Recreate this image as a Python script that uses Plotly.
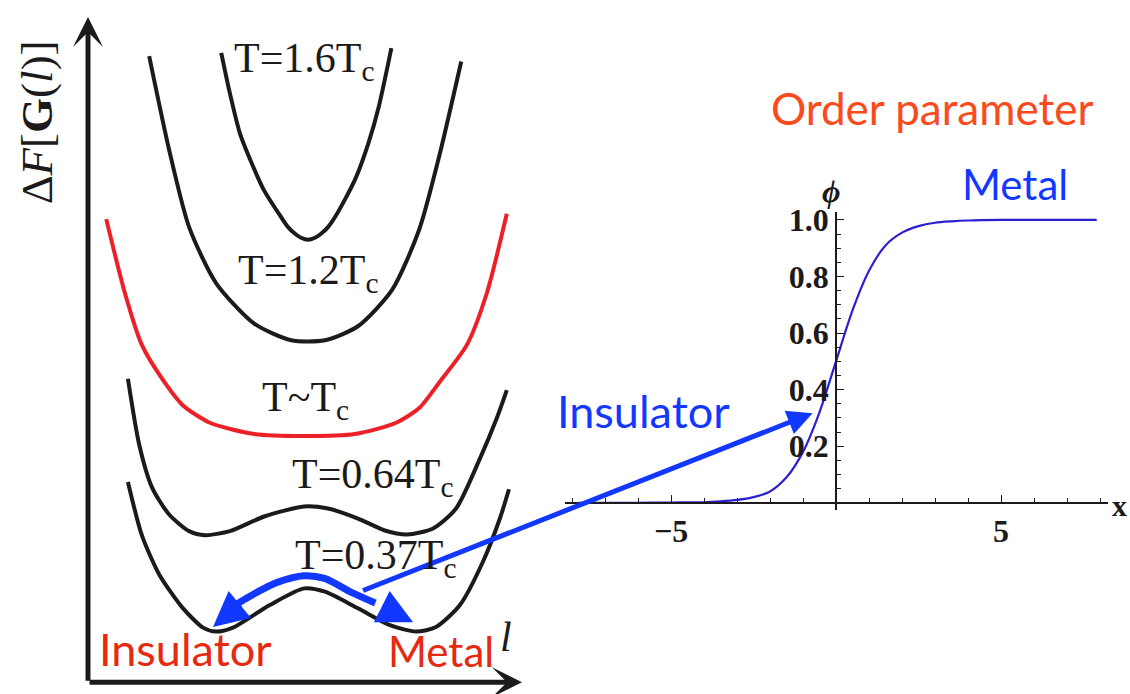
import plotly.graph_objects as go

# ---------------- data: free-energy curves (l, dF) ----------------
l_16 = [3.07, 3.27, 3.50, 3.74, 4.05, 4.45, 4.61, 4.77, 4.91, 5.07, 5.23, 5.37, 5.53, 5.71, 6.15, 6.46, 6.70, 6.99]
f_16 = [9.46, 8.85, 8.25, 7.85, 7.40, 6.99, 6.84, 6.74, 6.68, 6.65, 6.68, 6.74, 6.84, 7.01, 7.55, 8.10, 8.65, 9.53]

l_12 = [1.41, 1.87, 2.33, 2.95, 3.83, 4.68, 5.46, 6.22, 7.01, 7.63, 8.09, 8.60]
f_12 = [9.41, 8.00, 6.84, 6.00, 5.39, 5.14, 5.14, 5.35, 5.90, 6.80, 7.90, 9.33]

l_tc = [0.42, 0.85, 1.24, 1.71, 2.19, 2.81, 3.83, 4.98, 6.15, 7.10, 7.63, 8.11, 8.73, 9.19, 9.65]
f_tc = [6.96, 5.85, 5.07, 4.56, 4.16, 3.90, 3.73, 3.70, 3.73, 3.90, 4.12, 4.52, 5.07, 5.85, 7.04]

l_064 = [0.92, 1.18, 1.48, 1.87, 2.33, 2.70, 3.27, 4.06, 4.98, 5.53, 6.22, 6.84, 7.35, 7.95, 8.48, 9.03, 9.42, 9.65]
f_064 = [4.56, 3.57, 2.92, 2.52, 2.27, 2.21, 2.27, 2.49, 2.64, 2.61, 2.46, 2.28, 2.22, 2.31, 2.61, 3.36, 3.97, 4.39]

l_037 = [0.92, 1.24, 1.64, 2.19, 2.65, 2.95, 3.34, 4.19, 4.98, 5.46, 6.22, 6.94, 7.56, 8.02, 8.57, 9.10, 9.49, 9.70]
f_037 = [3.01, 2.21, 1.62, 1.11, 0.82, 0.76, 0.82, 1.16, 1.41, 1.36, 1.11, 0.86, 0.76, 0.83, 1.16, 1.81, 2.46, 2.90]

# thick blue double arrow drawn just above the T=0.37Tc curve
l_path = [3.42, 3.89, 4.36, 4.98, 5.45, 6.07, 6.62]
f_path = [1.17, 1.35, 1.50, 1.60, 1.56, 1.35, 1.19]

# curve labels
curve_labels = ["T=1.6T<sub>c</sub>", "T=1.2T<sub>c</sub>", "T~T<sub>c</sub>",
                "T=0.64T<sub>c</sub>", "T=0.37T<sub>c</sub>"]
label_l = [4.98, 5.07, 5.00, 6.57, 6.64]
label_f = [9.33, 6.15, 4.24, 3.08, 1.86]

# ---------------- data: order parameter profile phi(x) ----------------
x_phi = [-7.8, -6.0, -5.0, -4.0, -3.5, -3.0, -2.5, -2.0, -1.5, -1.0, -0.5, 0.0,
         0.5, 1.0, 1.5, 2.0, 2.5, 3.0, 3.5, 4.0, 5.0, 6.0, 7.9]
phi = [0.0, 0.0, 0.001, 0.002, 0.005, 0.01, 0.02, 0.04, 0.09, 0.18, 0.32, 0.50,
       0.68, 0.82, 0.91, 0.955, 0.978, 0.99, 0.995, 0.998, 1.0, 1.0, 1.0]

x_major = [-5, 5]
x_major_text = ["\u22125", "5"]
x_minor = [-8, -7, -6, -4, -3, -2, -1, 1, 2, 3, 4, 6, 7, 8]
y_major = [0.2, 0.4, 0.6, 0.8, 1.0]
y_major_text = ["0.2", "0.4", "0.6", "0.8", "1.0"]
y_minor = [0.05, 0.1, 0.15, 0.25, 0.3, 0.35, 0.45, 0.5, 0.55, 0.65, 0.7, 0.75, 0.85, 0.9, 0.95]

# ---------------- styling ----------------
BLACK = "#1c1a1b"
RED_CURVE = "#ec2027"
RED_TXT = "#e62a12"
ORANGE_TXT = "#fb4a1c"
BLUE = "#1238ff"
PHI_BLUE = "#2b1fd2"
SERIF = "Liberation Serif, Times New Roman, serif"
SANS = "Lato, Open Sans, sans-serif"

W, H = 1130, 694

fig = go.Figure()

for lx, fy, col in [(l_16, f_16, BLACK), (l_12, f_12, BLACK), (l_tc, f_tc, RED_CURVE),
                    (l_064, f_064, BLACK), (l_037, f_037, BLACK)]:
    fig.add_trace(go.Scatter(x=lx, y=fy, mode="lines", xaxis="x", yaxis="y",
                             line=dict(color=col, width=4, shape="spline", smoothing=0.7),
                             hoverinfo="skip"))

fig.add_trace(go.Scatter(x=l_path, y=f_path, mode="lines", xaxis="x", yaxis="y",
                         line=dict(color=BLUE, width=7, shape="spline", smoothing=0.8),
                         hoverinfo="skip"))

fig.add_trace(go.Scatter(x=x_phi, y=phi, mode="lines", xaxis="x2", yaxis="y2",
                         line=dict(color=PHI_BLUE, width=2.2, shape="spline", smoothing=0.8),
                         hoverinfo="skip"))

def px_x(p):
    return p / W

def px_y(p):
    return 1 - p / H

annotations = []

# left axes arrows
annotations.append(dict(x=0, y=10, ax=0, ay=0, xref="x", yref="y", axref="x", ayref="y",
                        showarrow=True, arrowhead=3, arrowsize=1.0, arrowwidth=5,
                        arrowcolor=BLACK, text=""))
annotations.append(dict(x=10, y=0, ax=0, ay=0, xref="x", yref="y", axref="x", ayref="y",
                        showarrow=True, arrowhead=3, arrowsize=1.0, arrowwidth=5,
                        arrowcolor=BLACK, text=""))

# blue double arrow heads
annotations.append(dict(x=2.88, y=0.83, ax=3.54, ay=1.19, xref="x", yref="y", axref="x", ayref="y",
                        showarrow=True, arrowhead=2, arrowsize=1.0, arrowwidth=7,
                        arrowcolor=BLUE, text=""))
annotations.append(dict(x=7.49, y=0.90, ax=6.85, ay=1.11, xref="x", yref="y", axref="x", ayref="y",
                        showarrow=True, arrowhead=2, arrowsize=1.0, arrowwidth=7,
                        arrowcolor=BLUE, text=""))

# thin blue arrow into order-parameter plot
annotations.append(dict(x=-0.71, y=0.317, xref="x2", yref="y2", ax=-451, ay=178,
                        showarrow=True, arrowhead=2, arrowsize=1.0, arrowwidth=5,
                        arrowcolor=BLUE, text=""))

# curve labels
for t, lx, fy in zip(curve_labels, label_l, label_f):
    annotations.append(dict(x=lx, y=fy, xref="x", yref="y", text=t, showarrow=False,
                            font=dict(family=SERIF, size=42, color=BLACK),
                            xanchor="center", yanchor="middle"))

# axis labels of left panel
annotations.append(dict(x=px_x(37), y=px_y(114), xref="paper", yref="paper",
                        text="\u0394<i>F</i>[<b>G</b>(<i>l</i>)]", textangle=-90, showarrow=False,
                        font=dict(family=SERIF, size=45, color=BLACK),
                        xanchor="center", yanchor="middle"))
annotations.append(dict(x=px_x(506), y=px_y(636), xref="paper", yref="paper",
                        text="<i>l</i>", showarrow=False,
                        font=dict(family=SERIF, size=42, color=BLACK),
                        xanchor="center", yanchor="middle"))

# red labels
annotations.append(dict(x=px_x(185), y=px_y(648), xref="paper", yref="paper",
                        text="Insulator", showarrow=False,
                        font=dict(family=SANS, size=45, color=RED_TXT),
                        xanchor="center", yanchor="middle"))
annotations.append(dict(x=px_x(441), y=px_y(650), xref="paper", yref="paper",
                        text="Metal", showarrow=False,
                        font=dict(family=SANS, size=42, color=RED_TXT),
                        xanchor="center", yanchor="middle"))

# right panel texts
annotations.append(dict(x=px_x(932), y=px_y(99), xref="paper", yref="paper",
                        text="Order parameter", showarrow=False,
                        font=dict(family=SANS, size=44, color=ORANGE_TXT),
                        xanchor="center", yanchor="middle"))
annotations.append(dict(x=px_x(1015), y=px_y(177), xref="paper", yref="paper",
                        text="Metal", showarrow=False,
                        font=dict(family=SANS, size=42, color=BLUE),
                        xanchor="center", yanchor="middle"))
annotations.append(dict(x=px_x(643), y=px_y(407), xref="paper", yref="paper",
                        text="Insulator", showarrow=False,
                        font=dict(family=SANS, size=45, color=BLUE),
                        xanchor="center", yanchor="middle"))
annotations.append(dict(x=px_x(831), y=px_y(184), xref="paper", yref="paper",
                        text="<b><i>\u03d5</i></b>", showarrow=False,
                        font=dict(family=SERIF, size=32, color=BLACK),
                        xanchor="center", yanchor="middle"))
annotations.append(dict(x=px_x(1129), y=px_y(503), xref="paper", yref="paper",
                        text="<b>x</b>", showarrow=False,
                        font=dict(family=SERIF, size=30, color=BLACK),
                        xanchor="right", yanchor="middle"))

fig.update_layout(
    width=W, height=H,
    margin=dict(l=0, r=0, t=0, b=0),
    paper_bgcolor="white", plot_bgcolor="rgba(0,0,0,0)",
    showlegend=False,
    xaxis=dict(domain=[px_x(88), px_x(522)], range=[0, 10], visible=False, fixedrange=True),
    yaxis=dict(domain=[px_y(682), px_y(7)], range=[0, 10], visible=False, fixedrange=True),
    xaxis2=dict(domain=[px_x(565), px_x(1108)], range=[(565 - 836) / 33, (1108 - 836) / 33],
                anchor="free", position=px_y(500), showgrid=False, zeroline=False,
                showline=True, linecolor=BLACK, linewidth=1.6,
                tickmode="array", tickvals=x_major, ticktext=x_major_text,
                ticks="inside", ticklen=7, tickwidth=1.4, tickcolor=BLACK,
                tickfont=dict(family=SERIF, size=32, color=BLACK, weight="bold"),
                minor=dict(tickmode="array", tickvals=x_minor, ticks="inside", ticklen=4,
                           tickwidth=1.2, tickcolor=BLACK),
                fixedrange=True),
    yaxis2=dict(domain=[px_y(507), px_y(205)], range=[-0.0244, 1.0279],
                anchor="free", position=px_x(836), showgrid=False, zeroline=False,
                showline=True, linecolor=BLACK, linewidth=1.6,
                tickmode="array", tickvals=y_major, ticktext=y_major_text,
                ticks="inside", ticklen=7, tickwidth=1.4, tickcolor=BLACK,
                tickfont=dict(family=SERIF, size=32, color=BLACK, weight="bold"),
                minor=dict(tickmode="array", tickvals=y_minor, ticks="inside", ticklen=4,
                           tickwidth=1.2, tickcolor=BLACK),
                fixedrange=True),
    annotations=annotations,
)

fig.write_html("out.html")
